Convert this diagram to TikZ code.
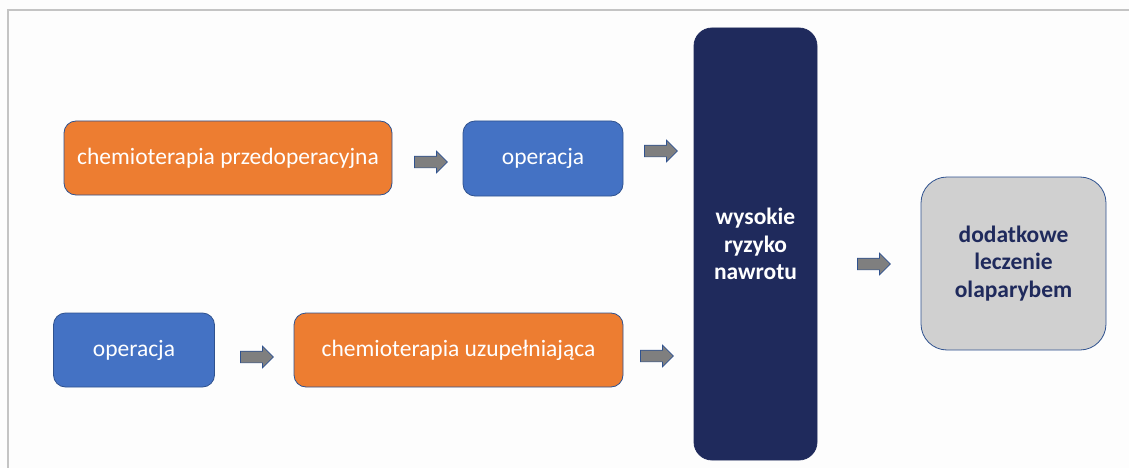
\documentclass[tikz,border=0pt]{standalone}
\usepackage{fontspec}
\setmainfont{Carlito}
\usetikzlibrary{shapes.arrows}
\definecolor{orng}{HTML}{ED7D31}
\definecolor{blu}{HTML}{4472C4}
\definecolor{navy}{HTML}{1F2A5C}
\definecolor{lgray}{HTML}{D0D0D0}
\definecolor{edge}{HTML}{2F528F}
\definecolor{arrfill}{HTML}{7F7F7F}
\definecolor{frame}{HTML}{C4C4C4}
\definecolor{bg}{HTML}{FDFDFD}
\tikzset{
  box/.style={draw=edge, line width=0.8pt, rounded corners=12pt, text=white,
    font=\fontsize{23.5}{28}\selectfont, inner sep=0pt, align=center},
  orangebox/.style={box, fill=orng},
  bluebox/.style={box, fill=blu},
  blockarrow/.style={single arrow, draw=edge, fill=arrfill, line width=0.7pt,
    minimum height=33pt, inner xsep=0pt, inner ysep=5.5pt, text height=0pt, text depth=0pt,
    text width=0pt, single arrow head extend=5pt,
    single arrow tip angle=90, anchor=center}
}
\begin{document}
\begin{tikzpicture}[x=1pt,y=-1pt]
\useasboundingbox (0,0) rectangle (1129,468);
\fill[bg] (0,0) rectangle (1129,468);
\draw[frame, line width=1.5pt] (8,468) -- (8,10) -- (1129,10);

\node[orangebox, minimum width=328pt, minimum height=74pt] (chemo1) at (228,158) {chemioterapia przedoperacyjna};
\node[bluebox, minimum width=160pt, minimum height=75pt] (op1) at (543,158.5) {operacja};
\node[bluebox, minimum width=161pt, minimum height=74pt] (op2) at (134,350) {operacja};
\node[orangebox, minimum width=329pt, minimum height=74pt] (chemo2) at (458.5,350) {chemioterapia uzupełniająca};
\node[box, fill=navy, draw=navy, rounded corners=18pt, minimum width=123pt, minimum height=432pt, font=\fontsize{23.5}{27.5}\selectfont\bfseries] (risk) at (755.5,244) {wysokie\\ryzyko\\nawrotu};
\node[box, fill=lgray, draw=edge, rounded corners=26pt, text=navy, minimum width=185pt, minimum height=173pt, font=\fontsize{23.5}{27.5}\selectfont\bfseries] (olap) at (1013.5,263.5) {dodatkowe\\leczenie\\olaparybem};

\node[blockarrow] (a1) at (428,162) {};
\node[blockarrow] (a2) at (658,151) {};
\node[blockarrow] (a3) at (871,264) {};
\node[blockarrow] (a4) at (254,357) {};
\node[blockarrow] (a5) at (654,356) {};
\end{tikzpicture}
\end{document}
